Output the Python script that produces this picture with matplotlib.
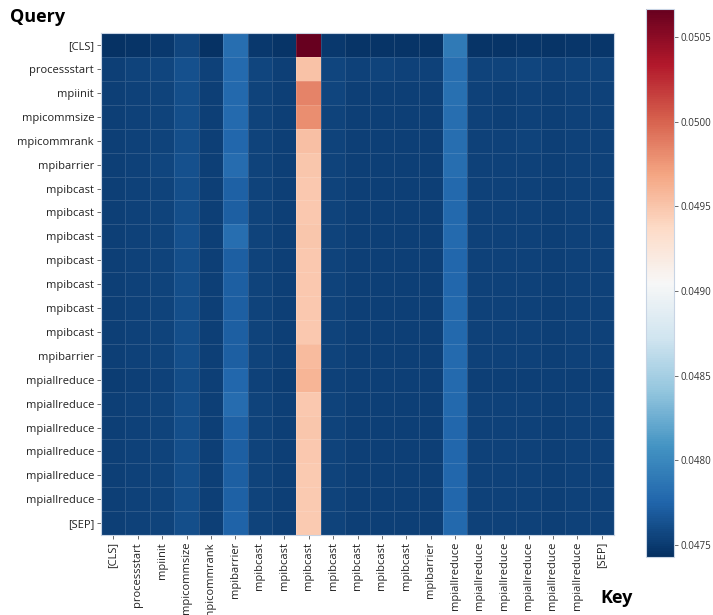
import matplotlib
matplotlib.use("Agg")
import matplotlib.pyplot as plt
import numpy as np

plt.rcParams['font.family'] = ['Open Sans', 'DejaVu Sans']

labels = ["[CLS]", "processstart", "mpiinit", "mpicommsize", "mpicommrank",
          "mpibarrier", "mpibcast", "mpibcast", "mpibcast", "mpibcast",
          "mpibcast", "mpibcast", "mpibcast", "mpibarrier", "mpiallreduce",
          "mpiallreduce", "mpiallreduce", "mpiallreduce", "mpiallreduce",
          "mpiallreduce", "[SEP]"]

# attention values, rows = query, columns = key
row_cls = [0.04745, 0.04746, 0.04749, 0.04756, 0.04745, 0.04781, 0.04749, 0.04746, 0.05066, 0.04749, 0.04746,
           0.04746, 0.04746, 0.04746, 0.04790, 0.04746, 0.04746, 0.04747, 0.04746, 0.04747, 0.04747]
row_processstart = [0.04752, 0.04755, 0.04756, 0.04762, 0.04754, 0.04779, 0.04756, 0.04753, 0.04952, 0.04756, 0.04754,
                    0.04755, 0.04754, 0.04754, 0.04782, 0.04755, 0.04755, 0.04756, 0.04754, 0.04755, 0.04755]
row_mpiinit = [0.04752, 0.04754, 0.04755, 0.04761, 0.04753, 0.04778, 0.04755, 0.04752, 0.04985, 0.04756, 0.04753,
               0.04753, 0.04753, 0.04753, 0.04783, 0.04754, 0.04753, 0.04754, 0.04753, 0.04754, 0.04754]
row_mpicommsize = [0.04752, 0.04754, 0.04755, 0.04761, 0.04753, 0.04779, 0.04755, 0.04752, 0.04980, 0.04755, 0.04753,
                   0.04753, 0.04753, 0.04753, 0.04781, 0.04754, 0.04753, 0.04754, 0.04753, 0.04754, 0.04754]
row_mpicommrank = [0.04752, 0.04754, 0.04755, 0.04761, 0.04753, 0.04777, 0.04755, 0.04752, 0.04953, 0.04755, 0.04753,
                   0.04753, 0.04753, 0.04753, 0.04781, 0.04754, 0.04754, 0.04755, 0.04753, 0.04754, 0.04754]
row_mpibarrier1 = [0.04752, 0.04754, 0.04756, 0.04762, 0.04753, 0.04780, 0.04755, 0.04752, 0.04950, 0.04755, 0.04753,
                   0.04753, 0.04753, 0.04753, 0.04781, 0.04754, 0.04754, 0.04754, 0.04753, 0.04754, 0.04754]
row_mpibcast1 = [0.04752, 0.04754, 0.04755, 0.04761, 0.04753, 0.04773, 0.04755, 0.04752, 0.04948, 0.04755, 0.04753,
                 0.04753, 0.04753, 0.04753, 0.04778, 0.04754, 0.04754, 0.04754, 0.04753, 0.04754, 0.04754]
row_mpibcast2 = [0.04752, 0.04754, 0.04755, 0.04761, 0.04753, 0.04772, 0.04755, 0.04752, 0.04948, 0.04755, 0.04753,
                 0.04753, 0.04753, 0.04753, 0.04778, 0.04754, 0.04754, 0.04754, 0.04753, 0.04754, 0.04754]
row_mpibcast3 = [0.04752, 0.04754, 0.04755, 0.04762, 0.04753, 0.04781, 0.04755, 0.04752, 0.04949, 0.04755, 0.04753,
                 0.04753, 0.04753, 0.04753, 0.04779, 0.04754, 0.04754, 0.04754, 0.04753, 0.04754, 0.04754]
row_mpibcast4 = [0.04752, 0.04754, 0.04755, 0.04761, 0.04753, 0.04772, 0.04755, 0.04752, 0.04948, 0.04755, 0.04753,
                 0.04753, 0.04753, 0.04753, 0.04777, 0.04754, 0.04754, 0.04754, 0.04753, 0.04754, 0.04754]
row_mpibcast5 = [0.04752, 0.04754, 0.04755, 0.04761, 0.04753, 0.04771, 0.04755, 0.04752, 0.04948, 0.04755, 0.04753,
                 0.04753, 0.04753, 0.04753, 0.04777, 0.04754, 0.04754, 0.04754, 0.04753, 0.04754, 0.04754]
row_mpibcast6 = [0.04752, 0.04754, 0.04755, 0.04761, 0.04753, 0.04772, 0.04755, 0.04752, 0.04948, 0.04755, 0.04753,
                 0.04753, 0.04753, 0.04753, 0.04778, 0.04754, 0.04754, 0.04754, 0.04753, 0.04754, 0.04754]
row_mpibcast7 = [0.04752, 0.04754, 0.04755, 0.04761, 0.04753, 0.04771, 0.04755, 0.04752, 0.04948, 0.04755, 0.04753,
                 0.04753, 0.04753, 0.04753, 0.04778, 0.04754, 0.04754, 0.04754, 0.04753, 0.04754, 0.04754]
row_mpibarrier2 = [0.04752, 0.04754, 0.04755, 0.04761, 0.04753, 0.04772, 0.04755, 0.04752, 0.04956, 0.04755, 0.04753,
                   0.04753, 0.04753, 0.04753, 0.04779, 0.04754, 0.04754, 0.04754, 0.04753, 0.04754, 0.04754]
row_allreduce1 = [0.04751, 0.04753, 0.04754, 0.04760, 0.04752, 0.04777, 0.04754, 0.04751, 0.04960, 0.04754, 0.04752,
                  0.04752, 0.04752, 0.04752, 0.04779, 0.04753, 0.04753, 0.04753, 0.04752, 0.04753, 0.04753]
row_allreduce2 = [0.04752, 0.04754, 0.04755, 0.04761, 0.04752, 0.04780, 0.04755, 0.04752, 0.04948, 0.04755, 0.04753,
                  0.04753, 0.04753, 0.04753, 0.04778, 0.04754, 0.04754, 0.04754, 0.04753, 0.04754, 0.04754]
row_allreduce3 = [0.04752, 0.04754, 0.04755, 0.04761, 0.04753, 0.04773, 0.04755, 0.04752, 0.04949, 0.04755, 0.04753,
                  0.04753, 0.04753, 0.04753, 0.04777, 0.04754, 0.04754, 0.04754, 0.04753, 0.04754, 0.04754]
row_allreduce4 = [0.04752, 0.04754, 0.04755, 0.04761, 0.04753, 0.04772, 0.04755, 0.04752, 0.04948, 0.04755, 0.04753,
                  0.04753, 0.04753, 0.04753, 0.04777, 0.04754, 0.04754, 0.04754, 0.04753, 0.04754, 0.04754]
row_allreduce5 = [0.04752, 0.04754, 0.04755, 0.04761, 0.04753, 0.04772, 0.04755, 0.04752, 0.04947, 0.04755, 0.04753,
                  0.04753, 0.04753, 0.04753, 0.04777, 0.04754, 0.04754, 0.04754, 0.04753, 0.04754, 0.04754]
row_allreduce6 = [0.04752, 0.04754, 0.04755, 0.04761, 0.04753, 0.04773, 0.04755, 0.04752, 0.04947, 0.04755, 0.04753,
                  0.04753, 0.04753, 0.04753, 0.04777, 0.04754, 0.04754, 0.04754, 0.04753, 0.04754, 0.04754]
row_sep = [0.04752, 0.04754, 0.04755, 0.04761, 0.04753, 0.04774, 0.04755, 0.04752, 0.04947, 0.04755, 0.04753,
           0.04753, 0.04753, 0.04753, 0.04778, 0.04754, 0.04754, 0.04754, 0.04753, 0.04754, 0.04754]

attn = np.array([row_cls, row_processstart, row_mpiinit, row_mpicommsize, row_mpicommrank,
                 row_mpibarrier1, row_mpibcast1, row_mpibcast2, row_mpibcast3, row_mpibcast4,
                 row_mpibcast5, row_mpibcast6, row_mpibcast7, row_mpibarrier2, row_allreduce1,
                 row_allreduce2, row_allreduce3, row_allreduce4, row_allreduce5, row_allreduce6,
                 row_sep])

vmin, vmax = 0.04743, 0.050665

fig = plt.figure(figsize=(7.13, 6.15), dpi=100)
ax = fig.add_axes([0.1417, 0.130, 0.7195, 0.816])
cax = fig.add_axes([0.906, 0.0943, 0.039, 0.891])

mesh = ax.pcolormesh(attn, cmap="RdBu_r", vmin=vmin, vmax=vmax,
                     edgecolors=(1, 1, 1, 0.13), linewidth=0.6)
ax.set_xlim(0, len(labels))
ax.set_ylim(len(labels), 0)
ax.set_xticks(np.arange(len(labels)) + 0.5)
ax.set_yticks(np.arange(len(labels)) + 0.5)
ax.set_xticklabels(labels, rotation=90, fontsize=8, color="#222222")
ax.set_yticklabels(labels, fontsize=8, color="#222222")
ax.tick_params(length=3, width=0.6, color="#555555", pad=2)
for s in ax.spines.values():
    s.set_color("#c8d4e4")
    s.set_linewidth(0.8)

cb = fig.colorbar(mesh, cax=cax)
cb.set_ticks([0.0475, 0.0480, 0.0485, 0.0490, 0.0495, 0.0500, 0.0505])
cb.set_ticklabels(["0.0475", "0.0480", "0.0485", "0.0490", "0.0495", "0.0500", "0.0505"])
cb.ax.tick_params(labelsize=7, length=3, width=0.6, pad=1.5, color="#555555", labelcolor="#333333")
cb.outline.set_edgecolor("#c8d4e4")
cb.outline.set_linewidth(0.8)

fig.text(0.014, 0.972, "Query", fontsize=13, fontweight="bold", va="center", ha="left")
fig.text(0.842, 0.028, "Key", fontsize=13, fontweight="bold", va="center", ha="left")

fig.savefig("out.png", dpi=100)
